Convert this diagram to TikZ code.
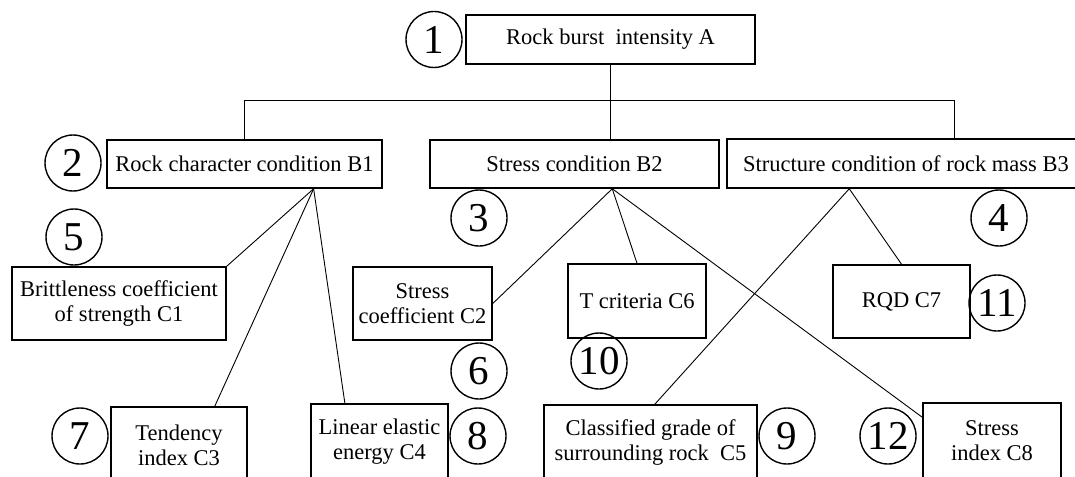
\documentclass[tikz,border=0pt]{standalone}
\usepackage{fontspec}
\setmainfont{Liberation Serif}
\usetikzlibrary{calc}
\begin{document}
\begin{tikzpicture}[x=1pt,y=-1pt,
  box/.style={draw, line width=1.5pt, rectangle, inner sep=0pt, align=center, font=\fontsize{22.5}{25}\selectfont},
  num/.style={draw, circle, line width=1.4pt, minimum size=56pt, inner sep=0pt, font=\fontsize{41}{41}\selectfont},
  link/.style={line width=0.9pt}]
\useasboundingbox (0,0) rectangle (1075,476);
\fill[white] (0,0) rectangle (1075,476);
\clip (0,0) rectangle (1075,476);
% top level
\node[box, minimum width=289pt, minimum height=49pt] (A) at (610.5,39.5) {Rock burst~ intensity A};
\node[num] (n1) at (434,39.5) {1};
% B level
\node[box, minimum width=275pt, minimum height=48pt] (B1) at (244.5,164) {Rock character condition B1};
\node[box, minimum width=289pt, minimum height=48pt] (B2) at (574.5,164) {Stress condition B2};
\node[box, minimum width=358pt, minimum height=49pt] (B3) at (906,163.5) {Structure condition of rock mass B3};
\node[num] (n2) at (73,163) {2};
\node[num] (n3) at (479,218) {3};
\node[num] (n4) at (999,218) {4};
\node[num] (n5) at (74,237) {5};
% C level, middle row
\node[box, minimum width=214pt, minimum height=73pt] (C1) at (119,303.5) {Brittleness coefficient\\of strength C1};
\node[box, minimum width=139pt, minimum height=73pt] (C2) at (422.5,303.5) {Stress\\coefficient C2};
\node[box, minimum width=138pt, minimum height=74pt] (C6) at (637,301) {T criteria C6};
\node[box, minimum width=137pt, minimum height=73pt] (C7) at (901.5,301.5) {RQD C7};
\node[num] (n6) at (479,371) {6};
\node[num] (n10) at (599,361) {10};
\node[num] (n11) at (997,303) {11};
% C level, bottom row
\node[box, minimum width=136pt, minimum height=76pt] (C3) at (179,445) {Tendency\\index C3};
\node[box, minimum width=137pt, minimum height=76pt] (C4) at (379.5,442) {Linear elastic\\energy C4};
\node[box, minimum width=213pt, minimum height=76pt] (C5) at (650.5,443) {Classified grade of\\surrounding rock~ C5};
\node[box, minimum width=138pt, minimum height=76pt] (C8) at (992,441) {Stress\\index C8};
\node[num] (n7) at (80,436) {7};
\node[num] (n8) at (478,436) {8};
\node[num] (n9) at (787,436) {9};
\node[num] (n12) at (888,436) {12};
% connectors to B level
\coordinate (busR) at (954,100);
\draw[link] (A.south) -- (A.south |- B2.north);
\draw[link] (B1.north) |- (busR) -- (busR |- B3.north);
% junction points
\coordinate (b1p) at ($(B1.south west)!0.75!(B1.south east)$);
\coordinate (b2p) at ($(B2.south west)!0.63!(B2.south east)$);
\coordinate (b3p) at ($(B3.south west)+(123,0)$);
% B1 children
\draw[link] (b1p) -- (C1.north east);
\draw[link] (b1p) -- ($(C3.north west)!0.76!(C3.north east)$);
\draw[link] (b1p) -- ($(C4.north west)!0.25!(C4.north east)$);
% B2 children
\draw[link] (b2p) -- (C2.east);
\draw[link] (b2p) -- (C6.north);
\draw[link] (b2p) -- ($(C8.north west)+(0,15)$);
% B3 children
\draw[link] (b3p) -- (C7.north);
\draw[link] (b3p) -- ($(C5.north west)!0.52!(C5.north east)$);
\end{tikzpicture}
\end{document}
